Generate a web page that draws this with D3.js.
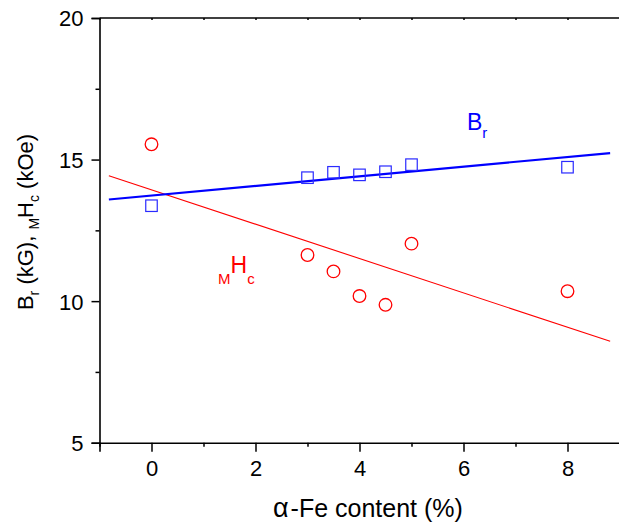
<!DOCTYPE html>
<html>
<head>
<meta charset="utf-8">
<script src="https://cdn.jsdelivr.net/npm/d3@7"></script>
<style>
  html, body { margin: 0; padding: 0; background: #fff; }
  svg { display: block; font-family: Arial, "Liberation Sans", sans-serif; }
</style>
</head>
<body>
<div id="chart"></div>
<script>
// α-Fe content (%) of each sample
const feContent = [0, 3, 3.5, 4, 4.5, 5, 8];
// Remanence Br (kG)
const brValues = [13.37, 14.36, 14.55, 14.46, 14.57, 14.82, 14.73];
// Coercivity MHc (kOe)
const hcValues = [15.54, 11.63, 11.05, 10.18, 9.87, 12.03, 10.35];
// Linear fit end points [x, y]
const brFit = [[-0.82, 13.59], [8.82, 15.23]];
const hcFit = [[-0.82, 14.43], [8.82, 8.58]];
// Axis ticks
const xMajor = [0, 2, 4, 6, 8];
const xMinor = [-1, 1, 3, 5, 7];
const xTop = [-1, 0, 1, 2, 3, 4, 5, 6, 7, 8, 9];
const yMajor = [5, 10, 15, 20];
const yMinor = [7.5, 12.5, 17.5];

const W = 619, H = 525;
const svg = d3.select("#chart").append("svg").attr("width", W).attr("height", H);

const x = d3.scaleLinear().domain([-1, 9]).range([99.5, 619.5]);
const y = d3.scaleLinear().domain([5, 20]).range([442.7, 18]);

const blue = "#0000ff", red = "#ff0000";
const fontSize = 22;

// Bottom axis
const xAxis = svg.append("g").attr("transform", `translate(0,${y(5)})`)
  .call(d3.axisBottom(x).tickValues(xMajor).tickSize(9).tickPadding(8).tickFormat(d3.format("d")));
svg.append("g").attr("transform", `translate(0,${y(5)})`)
  .call(d3.axisBottom(x).tickValues(xMinor).tickSize(4).tickFormat(""))
  .select(".domain").remove();

// Left axis
const yAxis = svg.append("g").attr("transform", `translate(${x(-1)},0)`)
  .call(d3.axisLeft(y).tickValues(yMajor).tickSize(8).tickPadding(8).tickFormat(d3.format("d")));
svg.append("g").attr("transform", `translate(${x(-1)},0)`)
  .call(d3.axisLeft(y).tickValues(yMinor).tickSize(4).tickFormat(""))
  .select(".domain").remove();

// Top axis
svg.append("g").attr("transform", `translate(0,${y(20)})`)
  .call(d3.axisBottom(x).tickValues(xTop).tickSize(2).tickFormat(""))
  .call(g => g.select(".domain").attr("d", `M${x(-1)},0H${W}`));

svg.selectAll(".domain").attr("stroke", "#000").attr("stroke-width", 1.6);
svg.selectAll(".tick line").attr("stroke", "#000").attr("stroke-width", 1.5);
svg.selectAll(".tick text").attr("font-size", fontSize).attr("fill", "#000")
  .attr("font-family", "Arial, 'Liberation Sans', sans-serif");
yAxis.selectAll(".tick text").attr("dy", "0.36em");
xAxis.selectAll(".tick text").attr("dy", "0.76em");

// Fit lines
const line = d3.line().x(d => x(d[0])).y(d => y(d[1]));
svg.append("path").attr("d", line(hcFit)).attr("fill", "none").attr("stroke", red).attr("stroke-width", 1.1);
svg.append("path").attr("d", line(brFit)).attr("fill", "none").attr("stroke", blue).attr("stroke-width", 2.2);

// Br markers (open squares)
const sq = 11.5;
svg.append("g").selectAll("rect").data(feContent).join("rect")
  .attr("x", (d) => x(d) - sq / 2)
  .attr("y", (d, i) => y(brValues[i]) - sq / 2)
  .attr("width", sq).attr("height", sq)
  .attr("fill", "none").attr("stroke", "#2a2aff").attr("stroke-width", 1.2);

// MHc markers (open circles)
svg.append("g").selectAll("circle").data(feContent).join("circle")
  .attr("cx", (d) => x(d))
  .attr("cy", (d, i) => y(hcValues[i]))
  .attr("r", 6.3)
  .attr("fill", "none").attr("stroke", red).attr("stroke-width", 1.3);

// Series labels
const brLabel = svg.append("text").attr("x", 467).attr("y", 130).attr("fill", blue).attr("font-size", 23);
brLabel.append("tspan").text("B");
brLabel.append("tspan").attr("font-size", 15).attr("dy", 8).text("r");

const hcLabel = svg.append("text").attr("x", 218).attr("y", 284).attr("fill", red).attr("font-size", 15);
hcLabel.append("tspan").text("M");
hcLabel.append("tspan").attr("font-size", 23).attr("dy", -11).text("H");
hcLabel.append("tspan").attr("dy", 11).text("c");

// Axis titles
const xTitle = svg.append("text").attr("x", 273).attr("y", 517)
  .attr("font-size", 25).attr("fill", "#000");
xTitle.append("tspan").attr("font-size", 27).text("α");
xTitle.append("tspan").attr("dx", 2).text("-Fe content (%)");

const yTitle = svg.append("text")
  .attr("transform", "translate(33,222) rotate(-90)")
  .attr("text-anchor", "middle").attr("font-size", fontSize).attr("fill", "#000");
yTitle.append("tspan").text("B");
yTitle.append("tspan").attr("font-size", 14).attr("dy", 6).text("r");
yTitle.append("tspan").attr("dy", -6).text(" (kG), ");
yTitle.append("tspan").attr("font-size", 14).attr("dy", 6).text("M");
yTitle.append("tspan").attr("dy", -6).text("H");
yTitle.append("tspan").attr("font-size", 14).attr("dy", 6).text("c");
yTitle.append("tspan").attr("dy", -6).text(" (kOe)");
</script>
</body>
</html>
